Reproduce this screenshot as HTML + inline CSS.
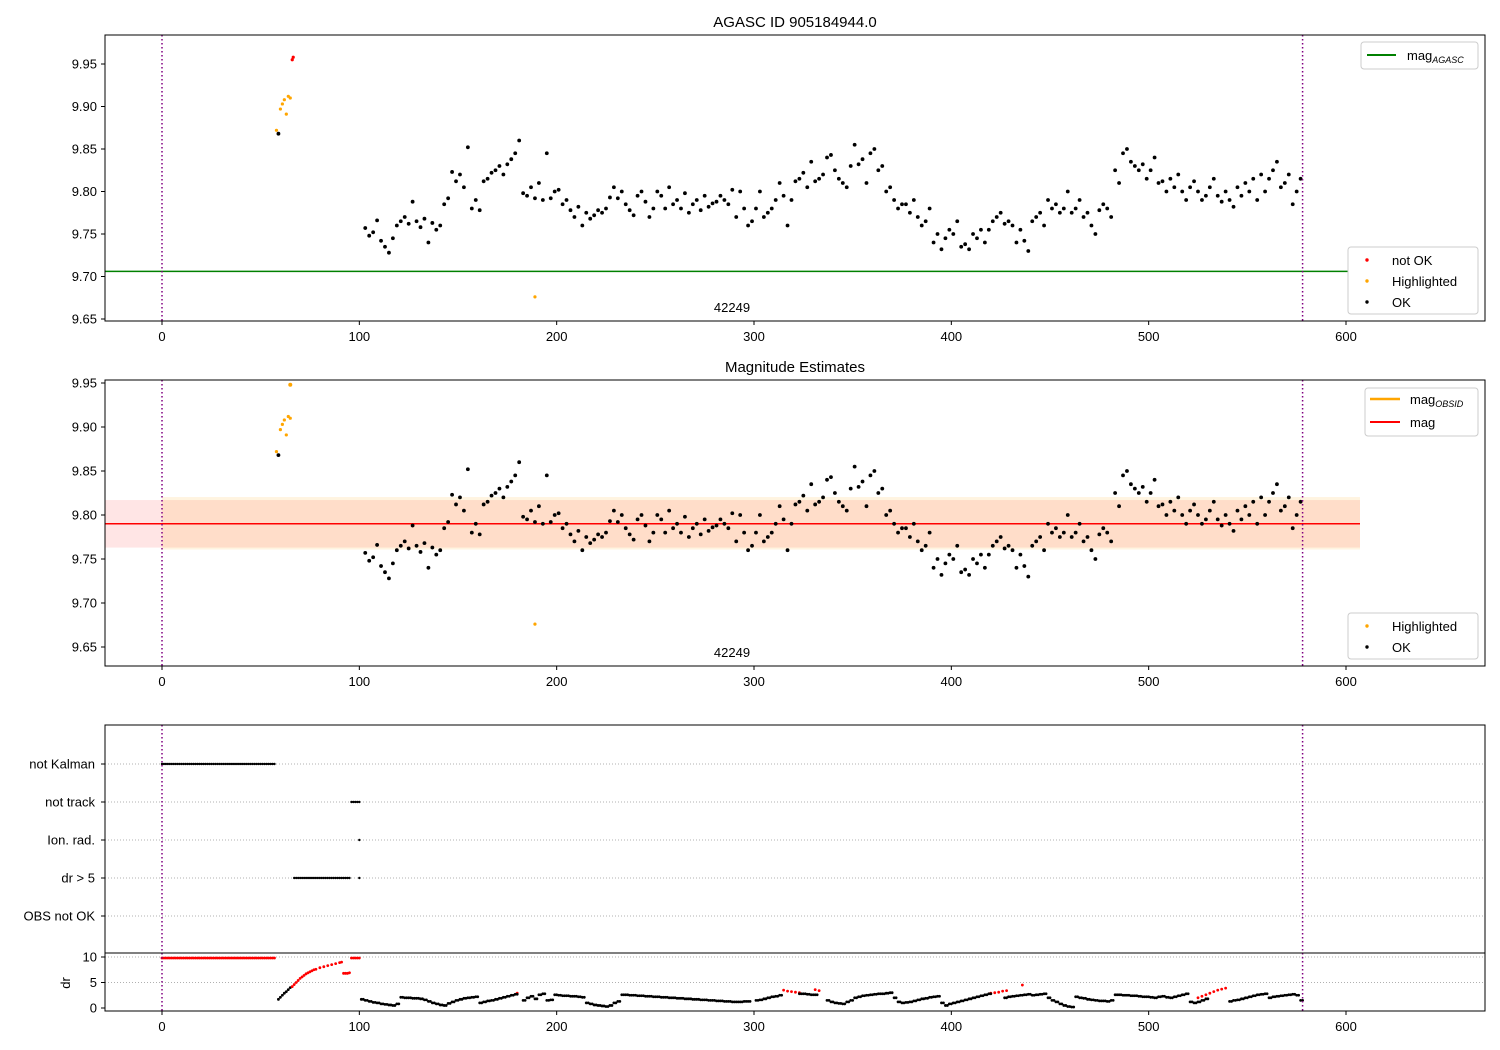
<!DOCTYPE html>
<html><head><meta charset="utf-8">
<style>
html,body{margin:0;padding:0;background:#fff;}
svg{display:block;font-family:"Liberation Sans","DejaVu Sans",sans-serif;}
</style></head>
<body>
<svg id="chart" width="1500" height="1050" xmlns="http://www.w3.org/2000/svg">
<rect width="1500" height="1050" fill="#fff"/>
</svg>
<script>
// ---- data ----
const magStart = 103, magStep = 2;
const magValues = [
9.757,9.748,9.752,9.766,9.742,9.735,9.728,9.745,9.760,9.765,
9.770,9.762,9.788,9.765,9.758,9.768,9.740,9.763,9.755,9.760,
9.785,9.792,9.823,9.812,9.820,9.805,9.852,9.780,9.790,9.778,
9.812,9.815,9.822,9.825,9.830,9.820,9.832,9.838,9.845,9.860,
9.798,9.795,9.805,9.792,9.810,9.790,9.845,9.792,9.800,9.802,
9.785,9.790,9.778,9.770,9.782,9.760,9.775,9.768,9.772,9.778,
9.775,9.780,9.793,9.805,9.792,9.800,9.785,9.778,9.772,9.795,
9.800,9.788,9.770,9.780,9.800,9.795,9.780,9.805,9.785,9.790,
9.780,9.798,9.775,9.785,9.790,9.778,9.795,9.782,9.786,9.788,
9.795,9.790,9.785,9.802,9.770,9.800,9.780,9.760,9.765,9.780,
9.800,9.770,9.775,9.780,9.790,9.810,9.795,9.760,9.790,9.812,
9.815,9.822,9.805,9.835,9.812,9.815,9.820,9.840,9.843,9.825,
9.815,9.810,9.805,9.830,9.855,9.832,9.838,9.810,9.845,9.850,
9.825,9.830,9.800,9.805,9.790,9.780,9.785,9.785,9.775,9.790,
9.770,9.760,9.765,9.780,9.740,9.750,9.732,9.745,9.755,9.750,
9.765,9.735,9.738,9.732,9.750,9.745,9.755,9.740,9.755,9.765,
9.770,9.775,9.762,9.765,9.760,9.740,9.755,9.742,9.730,9.765,
9.770,9.775,9.760,9.790,9.780,9.785,9.775,9.780,9.800,9.775,
9.780,9.790,9.770,9.775,9.760,9.750,9.778,9.785,9.780,9.770,
9.825,9.810,9.845,9.850,9.835,9.830,9.825,9.832,9.815,9.825,
9.840,9.810,9.812,9.800,9.815,9.805,9.820,9.800,9.790,9.805,
9.812,9.800,9.790,9.795,9.805,9.815,9.795,9.788,9.800,9.790,
9.782,9.805,9.795,9.810,9.800,9.815,9.790,9.820,9.800,9.815,
9.825,9.835,9.805,9.810,9.820,9.785,9.800,9.815];
const hiTimes = [58,60,61,62,63,64,65,189];
const hiValues = [9.872,9.897,9.903,9.908,9.891,9.912,9.910,9.676];
const earlyOkTimes = [59];
const earlyOkValues = [9.868];
const notOkTimes = [66,66.5];
const notOkValues = [9.955,9.958];
const magAgasc = 9.706;
const magMean = 9.790;
const magLow = 9.763, magHigh = 9.817;
const obsStart = 0, obsEnd = 578;
const catLabels = ["not Kalman","not track","Ion. rad.","dr > 5","OBS not OK"];
const catStart = [0,96,100,67,null];
const catEnd = [57,100,100,95,null];
const drStart = 101, drStep = 2;
const drValues = [
1.7,1.5,1.3,1.1,1.0,0.8,0.7,0.6,0.5,0.8,
2.1,2.0,2.0,1.9,1.9,1.8,1.6,1.3,1.0,0.8,
0.6,0.5,0.9,1.2,1.5,1.7,1.9,2.0,2.1,2.2,
1.0,1.2,1.4,1.5,1.7,1.9,2.1,2.3,2.5,2.7,
null,1.5,2.0,2.3,1.8,2.6,2.8,1.5,1.6,2.6,
2.5,2.4,2.4,2.3,2.3,2.2,2.1,1.0,0.8,0.6,
0.5,0.4,0.3,0.5,1.0,1.3,2.6,2.6,2.5,2.5,
2.4,2.4,2.3,2.3,2.2,2.2,2.1,2.1,2.0,2.0,
1.9,1.9,1.8,1.8,1.7,1.7,1.6,1.6,1.5,1.5,
1.4,1.4,1.3,1.3,1.2,1.2,1.2,1.3,1.3,null,
1.5,1.6,1.8,2.0,2.2,2.3,2.5,null,null,null,
null,2.8,2.8,2.7,2.6,2.6,null,null,1.5,1.2,
1.0,0.9,0.8,1.2,1.5,2.0,2.2,2.4,2.5,2.6,
2.7,2.8,2.8,2.9,3.0,2.0,1.2,1.0,1.1,1.2,
1.4,1.6,1.8,1.9,2.1,2.2,2.3,1.0,0.5,0.8,
1.0,1.2,1.4,1.6,1.8,2.0,2.2,2.4,2.6,2.8,
null,null,null,2.0,2.2,2.3,2.4,2.5,2.6,2.7,
2.5,2.6,2.7,2.8,2.0,1.5,1.2,0.8,0.5,0.3,
0.2,2.2,2.0,1.9,1.7,1.6,1.5,1.4,1.4,1.3,
1.5,2.6,2.6,2.5,2.5,2.4,2.4,2.3,2.2,2.2,
2.1,2.0,2.2,2.3,2.1,2.0,2.2,2.4,2.6,2.8,
1.2,1.0,1.2,1.5,1.8,null,null,null,null,null,
1.3,1.5,1.6,1.8,2.0,2.2,2.4,2.6,2.7,2.8,
2.0,2.2,2.3,2.4,2.5,2.6,2.7,2.5,1.5];
const drEarlyTimes = [59,60,61,62,63,64,65];
const drEarlyValues = [1.7,2.1,2.5,2.9,3.2,3.6,4.0];
const drRedTimes = [66,67,68,69,70,71,72,73,74,75,76,77,78,80,82,84,86,88,90,91,92,93,94,95,96,97,98,99,100,180,315,317,319,321,323,331,333,420,422,424,426,428,436,525,527,529,531,533,535,537,539];
const drRedValues = [4.2,4.6,5.0,5.4,5.8,6.1,6.4,6.7,6.9,7.1,7.3,7.5,7.6,7.9,8.1,8.3,8.5,8.7,8.9,9.0,6.8,6.8,6.8,6.9,9.8,9.8,9.8,9.8,9.8,2.9,3.5,3.3,3.2,3.1,3.0,3.6,3.4,2.9,3.0,3.1,3.3,3.4,4.5,2.0,2.3,2.6,2.9,3.2,3.5,3.7,3.9];
const drRedFlatStart = 0, drRedFlatEnd = 57, drRedFlatValue = 9.8;
const xTicks = [0,100,200,300,400,500,600];
const magTicks = [9.65,9.70,9.75,9.80,9.85,9.90,9.95];
const drTicks = [0,5,10];

// ---- helpers ----
const svg = document.getElementById('chart');
const NS = 'http://www.w3.org/2000/svg';
function mk(tag, attrs, parent){
  const e = document.createElementNS(NS, tag);
  for (const k in attrs) e.setAttribute(k, attrs[k]);
  (parent||svg).appendChild(e);
  return e;
}
const X0 = 105, X1 = 1485;
function xs(t){ return 162 + t * (1346 - 162) / 600; }
function y1(v){ return 64 + (9.95 - v) * 850; }
function y2(v){ return 383 + (9.95 - v) * 880; }
function yc(i){ return 764 + i * 38; }
function yd(v){ return 1008 - v * 5.1; }

function dot(x, y, color, r, name){
  const c = mk('circle', {cx:x, cy:y, r:r, fill:color});
  
  
}
function txt(x, y, s, anchor, size, name, g){
  const t = mk('text', {x:x, y:y, 'text-anchor':anchor, 'font-size':size, fill:'#000'}, g);
  t.textContent = s;
  
  
  return t;
}
function xAxis(yb, name){
  xTicks.forEach(v => {
    mk('line', {x1:xs(v), x2:xs(v), y1:yb, y2:yb+4, stroke:'#000', 'stroke-width':1});
    txt(xs(v), yb+20, String(v), 'middle', 13, name + '-tick-' + v);
  });
}
function frame(y0, y1_, name){
  const r = mk('rect', {x:X0, y:y0, width:X1-X0, height:y1_-y0, fill:'none', stroke:'#000', 'stroke-width':1});
  
  
}
function vlines(yt, yb){
  [obsStart, obsEnd].forEach(t => {
    const l = mk('line', {x1:xs(t), x2:xs(t), y1:yt, y2:yb, stroke:'#800080', 'stroke-width':1.5, 'stroke-dasharray':'1.5,2.5'});
    
    
  });
}
function clip(id, yt, yb){
  const cp = mk('clipPath', {id:id});
  mk('rect', {x:X0, y:yt, width:X1-X0, height:yb-yt}, cp);
}
clip('c1', 35, 321); clip('c2', 380, 666); clip('c3', 725, 1011);

// ---- Panel 1 ----
txt(795, 27, 'AGASC ID 905184944.0', 'middle', 15, 'title-agasc');
const g1 = mk('g', {'clip-path':'url(#c1)'});
mk('line', {x1:X0, x2:1360, y1:y1(magAgasc), y2:y1(magAgasc), stroke:'#008000', 'stroke-width':1.5}, g1);
magValues.forEach((v,i) => dot(xs(magStart + i*magStep), y1(v), '#000', 1.9, 'ok-point'));
earlyOkTimes.forEach((t,i) => dot(xs(t), y1(earlyOkValues[i]), '#000', 1.9, 'ok-point'));
hiTimes.forEach((t,i) => dot(xs(t), y1(hiValues[i]), '#FFA500', 1.6, 'highlighted-point'));
notOkTimes.forEach((t,i) => dot(xs(t), y1(notOkValues[i]), '#FF0000', 1.6, 'not-ok-point'));
vlines(35, 321);
frame(35, 321, 'agasc-axes');
magTicks.forEach(v => {
  mk('line', {x1:X0-4, x2:X0, y1:y1(v), y2:y1(v), stroke:'#000'});
  txt(X0-8, y1(v)+4.5, v.toFixed(2), 'end', 13, 'y-tick');
});
xAxis(321, 'x1');
txt(732, 312, '42249', 'middle', 13, 'obsid-label');
// legends panel 1
mk('rect', {x:1361, y:42, width:117, height:27, fill:'#fff', stroke:'#ccc', rx:3});
mk('line', {x1:1367, x2:1396, y1:55, y2:55, stroke:'#008000', 'stroke-width':2});
{const t = txt(1407, 60, 'mag', 'start', 13, 'legend-mag-agasc'); const s = mk('tspan',{'font-size':9,'font-style':'italic',dy:3}, t); s.textContent='AGASC';}
mk('rect', {x:1348, y:247, width:130, height:67, fill:'#fff', stroke:'#ccc', rx:3});
dot(1367, 260, '#FF0000', 1.7, 'legend-marker-not-ok');
dot(1367, 281, '#FFA500', 1.7, 'legend-marker-highlighted');
dot(1367, 302, '#000', 1.7, 'legend-marker-ok');
txt(1392, 265, 'not OK', 'start', 13, 'legend-not-ok');
txt(1392, 286, 'Highlighted', 'start', 13, 'legend-highlighted');
txt(1392, 307, 'OK', 'start', 13, 'legend-ok');

// ---- Panel 2 ----
txt(795, 372, 'Magnitude Estimates', 'middle', 15, 'title-mag-estimates');
const g2 = mk('g', {'clip-path':'url(#c2)'});
mk('rect', {x:X0, y:y2(magHigh), width:1360-X0, height:y2(magLow)-y2(magHigh), fill:'rgba(255,0,0,0.1)'}, g2);
mk('rect', {x:xs(obsStart), y:y2(magHigh)-3, width:1360-xs(obsStart), height:y2(magLow)-y2(magHigh)+5, fill:'rgba(255,165,0,0.12)'}, g2);
mk('line', {x1:X0, x2:1360, y1:y2(magMean), y2:y2(magMean), stroke:'#FF0000', 'stroke-width':1.5}, g2);
magValues.forEach((v,i) => dot(xs(magStart + i*magStep), y2(v), '#000', 1.9, 'ok-point'));
earlyOkTimes.forEach((t,i) => dot(xs(t), y2(earlyOkValues[i]), '#000', 1.9, 'ok-point'));
hiTimes.forEach((t,i) => dot(xs(t), y2(hiValues[i]), '#FFA500', 1.6, 'highlighted-point'));
dot(xs(65), y2(9.948), '#FFA500', 2, 'highlighted-point');
vlines(380, 666);
frame(380, 666, 'mag-estimates-axes');
magTicks.forEach(v => {
  mk('line', {x1:X0-4, x2:X0, y1:y2(v), y2:y2(v), stroke:'#000'});
  txt(X0-8, y2(v)+4.5, v.toFixed(2), 'end', 13, 'y-tick');
});
xAxis(666, 'x2');
txt(732, 657, '42249', 'middle', 13, 'obsid-label');
mk('rect', {x:1365, y:388, width:113, height:48, fill:'#fff', stroke:'#ccc', rx:3});
mk('line', {x1:1370, x2:1400, y1:399, y2:399, stroke:'#FFA500', 'stroke-width':2.5});
mk('line', {x1:1370, x2:1400, y1:422, y2:422, stroke:'#FF0000', 'stroke-width':2});
{const t = txt(1410, 404, 'mag', 'start', 13, 'legend-mag-obsid'); const s = mk('tspan',{'font-size':9,'font-style':'italic',dy:3}, t); s.textContent='OBSID';}
txt(1410, 427, 'mag', 'start', 13, 'legend-mag');
mk('rect', {x:1348, y:613, width:130, height:46, fill:'#fff', stroke:'#ccc', rx:3});
dot(1367, 626, '#FFA500', 1.7, 'legend-marker-highlighted');
dot(1367, 647, '#000', 1.7, 'legend-marker-ok');
txt(1392, 631, 'Highlighted', 'start', 13, 'legend-highlighted');
txt(1392, 652, 'OK', 'start', 13, 'legend-ok');

// ---- Panel 3 (flags) ----
catLabels.forEach((lab,i) => {
  mk('line', {x1:X0, x2:X1, y1:yc(i), y2:yc(i), stroke:'#b0b0b0', 'stroke-width':1, 'stroke-dasharray':'1,2'});
  mk('line', {x1:X0-4, x2:X0, y1:yc(i), y2:yc(i), stroke:'#000'});
  txt(X0-10, yc(i)+4.5, lab, 'end', 13, 'flag-label');
  if (catStart[i] !== null) {
    for (let t = catStart[i]; t <= catEnd[i]; t++) dot(xs(t), yc(i), '#000', 1.2, 'flag-point');
  }
});
dot(xs(100), yc(3), '#000', 1.2, 'flag-point');
// dr subpanel
[5,10].forEach(v => mk('line', {x1:X0, x2:X1, y1:yd(v), y2:yd(v), stroke:'#b0b0b0', 'stroke-dasharray':'1,2'}));
const g3 = mk('g', {'clip-path':'url(#c3)'});
for (let t = drRedFlatStart; t <= drRedFlatEnd; t++) dot(xs(t), yd(drRedFlatValue), '#FF0000', 1.4, 'dr-red-point');
drEarlyTimes.forEach((t,i) => dot(xs(t), yd(drEarlyValues[i]), '#000', 1.4, 'dr-point'));
drRedTimes.forEach((t,i) => dot(xs(t), yd(drRedValues[i]), '#FF0000', 1.4, 'dr-red-point'));
drValues.forEach((v,i) => { if (v !== null) { dot(xs(drStart+i*drStep), yd(v), '#000', 1.4, 'dr-point'); dot(xs(drStart+i*drStep+1), yd(v), '#000', 1.4, 'dr-point'); } });
vlines(725, 1011);
frame(725, 1011, 'flags-axes');
mk('line', {x1:X0, x2:X1, y1:953, y2:953, stroke:'#000'});
drTicks.forEach(v => {
  mk('line', {x1:X0-4, x2:X0, y1:yd(v), y2:yd(v), stroke:'#000'});
  txt(X0-8, yd(v)+4.5, String(v), 'end', 13, 'dr-tick');
});
{const t = txt(0, 0, 'dr', 'middle', 13, 'dr-axis-title'); t.setAttribute('transform','translate(70,983) rotate(-90)');}
xAxis(1011, 'x3');
</script>
</body></html>
